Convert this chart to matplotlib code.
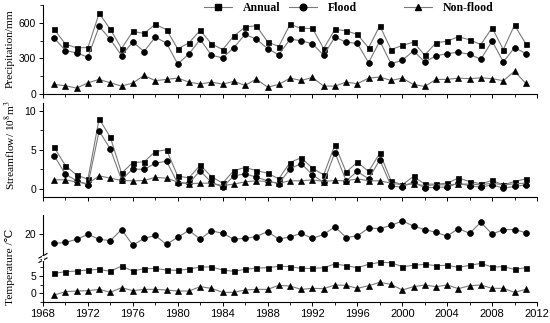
import matplotlib
matplotlib.use("Agg")
import matplotlib.pyplot as plt
from matplotlib.ticker import MultipleLocator
from matplotlib.lines import Line2D

years = list(range(1969, 2012))

precip_annual = [546, 420, 389, 391, 683, 546, 383, 529, 511, 589,
                 543, 380, 431, 537, 423, 374, 489, 566, 577, 440,
                 400, 589, 554, 554, 383, 546, 534, 503, 389, 577,
                 374, 409, 437, 326, 431, 446, 483, 457, 417, 560,
                 374, 583, 423]
precip_flood = [471, 366, 346, 309, 571, 460, 323, 440, 357, 480,
                429, 251, 337, 460, 326, 303, 391, 503, 463, 383,
                329, 463, 449, 423, 326, 480, 437, 426, 263, 446,
                254, 283, 363, 269, 320, 340, 351, 334, 291, 446,
                269, 391, 340]
precip_nonflood = [77, 66, 46, 91, 120, 91, 63, 89, 154, 109,
                   120, 131, 97, 80, 97, 80, 103, 69, 123, 54,
                   77, 131, 111, 137, 63, 63, 97, 83, 131, 140,
                   111, 131, 77, 60, 120, 120, 131, 126, 134, 126,
                   109, 189, 86]

flow_annual = [5.3, 3.0, 1.78, 1.27, 8.94, 6.6, 2.03, 3.39, 3.47, 4.79,
               5.0, 1.65, 1.44, 3.05, 1.6, 0.76, 2.37, 2.75, 2.37, 2.03,
               1.31, 3.39, 4.0, 2.67, 1.82, 5.64, 2.16, 3.43, 2.25, 4.58,
               1.06, 0.55, 1.61, 0.64, 0.64, 0.76, 1.4, 0.97, 0.68, 1.1,
               0.55, 0.97, 1.31]
flow_flood = [4.24, 1.9, 1.06, 0.55, 7.4, 5.1, 1.19, 2.58, 2.5, 3.3,
              3.56, 0.76, 0.76, 2.33, 0.85, 0.25, 1.69, 1.95, 1.53, 1.06,
              0.68, 2.58, 3.26, 1.82, 0.85, 4.66, 1.06, 2.25, 1.31, 3.73,
              0.42, 0.25, 0.97, 0.13, 0.25, 0.25, 0.76, 0.42, 0.25, 0.55,
              0.13, 0.34, 0.55]
flow_nonflood = [1.19, 1.19, 0.9, 0.72, 1.69, 1.4, 1.1, 1.06, 1.1, 1.5,
                 1.4, 0.9, 0.7, 0.75, 0.76, 0.45, 0.64, 0.93, 1.06, 0.97,
                 0.76, 1.06, 1.06, 1.19, 0.97, 1.1, 1.06, 1.31, 1.06, 1.06,
                 0.76, 0.55, 0.65, 0.45, 0.55, 0.55, 0.64, 0.64, 0.55, 0.76,
                 0.55, 0.68, 0.76]

temp_flood = [17.4, 17.7, 18.6, 20.0, 18.6, 18.2, 21.4, 16.9, 18.85, 19.7,
              17.1, 19.2, 21.15, 18.65, 21.06, 20.3, 18.65, 18.85, 19.4, 20.8,
              18.65, 19.3, 20.3, 18.85, 20.0, 22.2, 19.1, 19.6, 21.8, 21.7,
              22.6, 23.9, 22.4, 21.4, 20.6, 19.5, 21.7, 20.3, 23.5, 20.1,
              21.4, 21.4, 20.5]
temp_annual = [5.77, 6.25, 6.44, 6.73, 6.92, 6.35, 7.88, 6.44, 7.1, 7.2,
               6.73, 6.63, 7.0, 7.6, 7.6, 6.73, 6.35, 6.92, 7.3, 7.4,
               7.8, 7.7, 7.2, 7.2, 7.4, 8.46, 8.0, 7.4, 8.37, 8.94,
               8.85, 7.7, 8.08, 8.37, 8.0, 8.08, 7.5, 8.08, 8.65, 7.6,
               7.7, 6.92, 7.4]
temp_nonflood = [-0.48, 0.48, 0.67, 0.77, 1.15, 0.29, 1.63, 0.77, 1.15, 1.15,
                 0.96, 0.67, 0.67, 1.92, 1.44, 0.29, 0.29, 0.96, 1.15, 1.15,
                 2.3, 2.1, 1.15, 1.44, 1.35, 2.4, 2.3, 1.44, 2.2, 3.17,
                 2.6, 0.96, 1.92, 2.4, 1.92, 2.4, 1.35, 2.2, 2.4, 1.44,
                 1.44, 0.29, 1.15]

series_names = ["Annual", "Flood", "Non-flood"]
x_ticks = list(range(1968, 2013, 4))

plt.rcParams['mathtext.fontset'] = 'stix'
W, H = 550, 323
fig = plt.figure(figsize=(W / 100, H / 100), dpi=100)

def rect(top_px, bottom_px, left_px=43, right_px=537):
    return [left_px / W, 1 - bottom_px / H, (right_px - left_px) / W, (bottom_px - top_px) / H]

ax1 = fig.add_axes(rect(5.4, 93.5))
ax2 = fig.add_axes(rect(102.7, 197))
ax3u = fig.add_axes(rect(215, 258))
ax3l = fig.add_axes(rect(258, 302))

LC = '#7a7a7a'
styles = {
    "Annual": dict(marker='s', ms=3.6),
    "Flood": dict(marker='o', ms=4.2),
    "Non-flood": dict(marker='^', ms=4.4),
}

def draw(ax, y, name):
    st = styles[name]
    ax.plot(years, y, color=LC, lw=0.8, marker=st['marker'], ms=st['ms'],
            mfc='black', mec='black', mew=0.5)

for ax in (ax1, ax2, ax3u, ax3l):
    ax.set_xlim(1968, 2012)
    for s in ('top', 'right'):
        ax.spines[s].set_visible(False)
    for s in ('left', 'bottom'):
        ax.spines[s].set_linewidth(0.8)
    ax.tick_params(direction='out', length=3, width=0.7, labelsize=7.5, pad=2)
    ax.tick_params(which='minor', direction='out', length=2, width=0.6)
    ax.xaxis.set_major_locator(MultipleLocator(4))
    ax.xaxis.set_minor_locator(MultipleLocator(2))
    ax.patch.set_alpha(0)

# precipitation
draw(ax1, precip_annual, "Annual")
draw(ax1, precip_flood, "Flood")
draw(ax1, precip_nonflood, "Non-flood")
ax1.set_ylim(0, 750)
ax1.yaxis.set_major_locator(MultipleLocator(300))
ax1.yaxis.set_minor_locator(MultipleLocator(150))
ax1.tick_params(labelbottom=False)

# streamflow
draw(ax2, flow_annual, "Annual")
draw(ax2, flow_flood, "Flood")
draw(ax2, flow_nonflood, "Non-flood")
ax2.set_ylim(-1, 11)
ax2.set_yticks([0, 5, 10])
ax2.yaxis.set_minor_locator(MultipleLocator(2.5))
ax2.tick_params(labelbottom=False)

# temperature (broken axis)
draw(ax3u, temp_flood, "Flood")
ax3u.set_ylim(13.2, 25.6)
ax3u.set_yticks([20])
ax3u.spines['bottom'].set_visible(False)
ax3u.tick_params(axis='x', which='both', bottom=False, labelbottom=False)

draw(ax3l, temp_annual, "Annual")
draw(ax3l, temp_nonflood, "Non-flood")
ax3l.set_ylim(-2.5, 10.2)
ax3l.set_yticks([0, 5])
ax3l.yaxis.set_minor_locator(MultipleLocator(2.5))
ax3l.set_xticks(x_ticks)
ax3l.tick_params(axis='x', labelsize=8)

for ax in (ax1, ax2, ax3u, ax3l):
    for lab in ax.get_xticklabels() + ax.get_yticklabels():
        lab.set_fontfamily('Liberation Sans')

# break marks on left spine
bx = 43 / W
by = 1 - 258 / H
for dy in (-2.2, 2.2):
    fig.add_artist(Line2D([bx - 4 / W, bx + 4 / W],
                          [by + (dy - 2.2) / H, by + (dy + 2.2) / H],
                          color='black', lw=0.8))
fig.add_artist(Line2D([bx, bx], [by - 1.5 / H, by + 1.5 / H], color='white', lw=1.5))

# y labels
lab_font = dict(family=['Liberation Serif', 'DejaVu Serif'], size=8.2)
fig.text(10.5 / W, 1 - 49 / H, "Precipitation/mm", rotation=90, ha='center', va='center', **lab_font)
fig.text(10.5 / W, 1 - 145 / H, r"Streamflow/ 10$^{8}$m$^{3}$", rotation=90, ha='center', va='center', **lab_font)
fig.text(10.5 / W, 1 - 267 / H, "Temperature /℃", rotation=90, ha='center', va='center', **lab_font)

# legend (three separate entries)
leg_x = [200, 285, 400]
for name, lx in zip(series_names, leg_x):
    st = styles[name]
    h = Line2D([], [], color=LC, lw=0.8, marker=st['marker'], ms=st['ms'] + 0.6,
               mfc='black', mec='black')
    fig.legend([h], [name], loc='center left',
               bbox_to_anchor=(lx / W - 0.012, 1 - 8 / H), frameon=False,
               handlelength=2.4, handletextpad=0.9,
               prop=dict(family='Liberation Serif', weight='bold', size=8.5))

fig.savefig("out.png", dpi=100)
